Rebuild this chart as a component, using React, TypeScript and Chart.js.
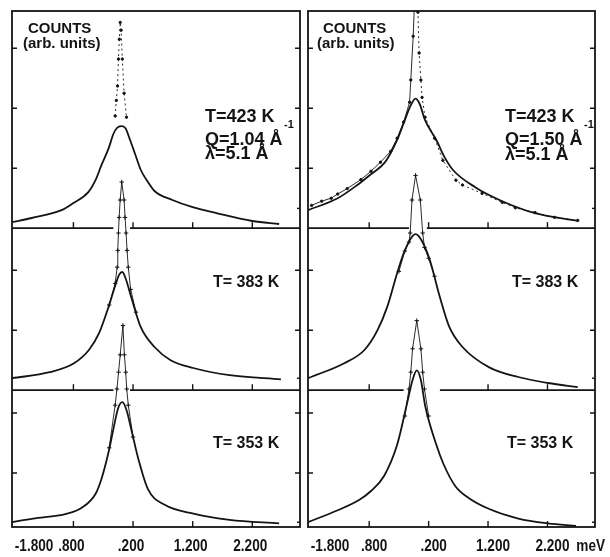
import React, { useEffect, useRef } from "react";
import { Chart, registerables } from "chart.js";

Chart.register(...registerables);

// ---------- axes ----------
const X_MIN = -1.83;
const X_MAX = 3.0;
const Y_MAX = 8.6;
// baselines of the stacked panels (top, middle, bottom), in count units
const PANEL_BASES = [4.98, 2.28, 0];

const X_TICKS = [-1.8, -0.8, 0.2, 1.2, 2.2];
const X_TICK_LABELS = ["-1.800", ".800", ".200", "1.200", "2.200"];
const UNIT_LABEL = "meV";

// ---------- left column, Q = 1.04 Å-1 ----------
// T = 423 K
const L423_FIT_X = [-1.83, -1.5, -1.0, -0.8, -0.55, -0.43, -0.33, -0.21, -0.13, -0.07, 0, 0.07, 0.15, 0.23, 0.33, 0.45, 0.56, 0.86, 1.2, 1.6, 2.2, 2.65];
const L423_FIT_Y = [0.1, 0.17, 0.3, 0.42, 0.6, 0.8, 1.05, 1.33, 1.57, 1.67, 1.7, 1.67, 1.47, 1.25, 0.97, 0.77, 0.62, 0.47, 0.35, 0.25, 0.12, 0.07];
const L423_DATA_X = [-0.1, -0.08, -0.06, -0.045, -0.03, -0.015, 0.0, 0.02, 0.05, 0.09];
const L423_DATA_Y = [1.87, 2.13, 2.37, 2.82, 3.15, 3.43, 3.3, 2.82, 2.25, 1.85];
// T = 383 K
const L383_FIT_X = [-1.83, -1.2, -0.79, -0.54, -0.37, -0.21, -0.08, -0.03, 0.02, 0.08, 0.17, 0.33, 0.56, 0.83, 1.21, 1.82, 2.68];
const L383_FIT_Y = [0.2, 0.3, 0.45, 0.67, 0.95, 1.39, 1.8, 1.93, 1.97, 1.85, 1.55, 1.05, 0.72, 0.5, 0.37, 0.25, 0.18];
const L383_DATA_X = [-0.2, -0.1, -0.066, -0.056, -0.045, -0.033, -0.016, 0.01, 0.05, 0.066, 0.083, 0.1, 0.12, 0.16, 0.25];
const L383_DATA_Y = [1.42, 1.78, 2.05, 2.33, 2.62, 2.88, 3.17, 3.47, 3.17, 2.88, 2.62, 2.33, 2.05, 1.68, 1.3];
// T = 353 K
const L353_FIT_X = [-1.83, -1.48, -0.92, -0.66, -0.43, -0.33, -0.21, -0.13, -0.05, 0.02, 0.09, 0.17, 0.29, 0.45, 0.73, 1.23, 1.82, 2.65];
const L353_FIT_Y = [0.08, 0.14, 0.22, 0.32, 0.55, 0.8, 1.25, 1.63, 1.98, 2.08, 1.95, 1.63, 1.13, 0.63, 0.37, 0.22, 0.12, 0.06];
const L353_DATA_X = [-0.2, -0.1, -0.07, -0.043, -0.015, 0.03, 0.055, 0.077, 0.094, 0.12, 0.2];
const L353_DATA_Y = [1.32, 2.03, 2.3, 2.58, 2.87, 3.36, 2.87, 2.58, 2.3, 2.03, 1.5];

// ---------- right column, Q = 1.50 Å-1 ----------
// T = 423 K
const R423_FIT_X = [-1.83, -1.33, -1.0, -0.77, -0.55, -0.44, -0.33, -0.22, -0.1, -0.02, 0.05, 0.14, 0.33, 0.47, 0.61, 0.99, 1.44, 1.99, 2.71];
const R423_FIT_Y = [0.3, 0.5, 0.72, 0.9, 1.08, 1.25, 1.47, 1.75, 2.05, 2.16, 2.07, 1.8, 1.47, 1.18, 0.97, 0.68, 0.45, 0.25, 0.12];
const R423_DATA_X = [-1.77, -1.6, -1.44, -1.33, -1.17, -0.94, -0.77, -0.61, -0.44, -0.33, -0.22, -0.12, -0.1, -0.06, -0.02, 0.02, 0.04, 0.07, 0.09, 0.14, 0.3, 0.44, 0.66, 0.77, 1.1, 1.44, 1.66, 1.99, 2.32, 2.71];
const R423_DATA_Y = [0.38, 0.45, 0.5, 0.57, 0.66, 0.81, 0.95, 1.1, 1.28, 1.5, 1.77, 2.1, 2.47, 3.2, 4.2, 3.6, 2.92, 2.47, 2.18, 1.85, 1.5, 1.13, 0.8, 0.72, 0.58, 0.43, 0.34, 0.26, 0.18, 0.13];
// T = 383 K
const R383_FIT_X = [-1.83, -1.22, -0.88, -0.66, -0.5, -0.33, -0.22, -0.1, -0.02, 0.08, 0.22, 0.39, 0.55, 0.77, 1.22, 1.71, 2.21, 2.71];
const R383_FIT_Y = [0.2, 0.45, 0.67, 1.0, 1.38, 1.95, 2.28, 2.53, 2.6, 2.5, 2.17, 1.55, 1.05, 0.72, 0.38, 0.22, 0.12, 0.05];
const R383_DATA_X = [-0.3, -0.2, -0.13, -0.11, -0.08, -0.02, 0.06, 0.1, 0.13, 0.2, 0.3];
const R383_DATA_Y = [1.98, 2.32, 2.47, 2.62, 3.17, 3.58, 3.17, 2.62, 2.38, 2.2, 1.9];
// T = 353 K
const R353_FIT_X = [-1.83, -1.33, -0.97, -0.77, -0.55, -0.33, -0.17, -0.07, 0.0, 0.07, 0.14, 0.33, 0.45, 0.65, 0.88, 1.22, 1.71, 2.21, 2.68];
const R353_FIT_Y = [0.08, 0.28, 0.45, 0.6, 0.85, 1.37, 2.03, 2.45, 2.61, 2.45, 2.03, 1.37, 1.05, 0.68, 0.48, 0.3, 0.14, 0.06, 0.02];
const R353_DATA_X = [-0.2, -0.13, -0.1, -0.07, 0.0, 0.07, 0.1, 0.13, 0.2];
const R353_DATA_Y = [1.85, 2.3, 2.58, 2.97, 3.44, 2.97, 2.58, 2.3, 1.85];

// ---------- styling ----------
const INK = "#141414";
const TEXT_FONT = '"Liberation Sans", Arial, Helvetica, sans-serif';

type Panel = {
  fitX: number[];
  fitY: number[];
  dataX: number[];
  dataY: number[];
  base: number;
  dashed?: (x: number) => boolean;
  dot?: boolean;
};

type Txt = { t: string; x: number; y: number; size: number };

type Column = {
  key: string;
  left: number;
  width: number;
  padding: { left: number; right: number; top: number; bottom: number };
  panels: Panel[];
  boundaryGaps: [number, number][];
  unitTick: number | null;
  labelShift: number;
  texts: Txt[];
};

const LEFT: Column = {
  key: "L",
  left: 0,
  width: 305,
  padding: { left: 12, right: 1, top: 11, bottom: 0 },
  panels: [
    { fitX: L423_FIT_X, fitY: L423_FIT_Y, dataX: L423_DATA_X, dataY: L423_DATA_Y, base: PANEL_BASES[0], dashed: () => true, dot: true },
    { fitX: L383_FIT_X, fitY: L383_FIT_Y, dataX: L383_DATA_X, dataY: L383_DATA_Y, base: PANEL_BASES[1] },
    { fitX: L353_FIT_X, fitY: L353_FIT_Y, dataX: L353_DATA_X, dataY: L353_DATA_Y, base: PANEL_BASES[2] },
  ],
  boundaryGaps: [[-0.13, 0.15], [-0.13, 0.15]],
  unitTick: null,
  labelShift: -2,
  texts: [
    { t: "COUNTS", x: 28, y: 33, size: 15 },
    { t: "(arb. units)", x: 23, y: 48, size: 15 },
    { t: "T=423 K", x: 205, y: 122, size: 18 },
    { t: "Q=1.04 Å", x: 205, y: 145, size: 18 },
    { t: "-1", x: 284, y: 128, size: 11 },
    { t: "λ=5.1 Å", x: 205, y: 159, size: 18 },
    { t: "T= 383 K", x: 213, y: 287, size: 16 },
    { t: "T= 353 K", x: 213, y: 448, size: 16 },
  ],
};

const RIGHT: Column = {
  key: "R",
  left: 303,
  width: 307,
  padding: { left: 0, right: 15, top: 11, bottom: 0 },
  panels: [
    { fitX: R423_FIT_X, fitY: R423_FIT_Y, dataX: R423_DATA_X, dataY: R423_DATA_Y, base: PANEL_BASES[0], dashed: (x) => x >= -0.02, dot: true },
    { fitX: R383_FIT_X, fitY: R383_FIT_Y, dataX: R383_DATA_X, dataY: R383_DATA_Y, base: PANEL_BASES[1] },
    { fitX: R353_FIT_X, fitY: R353_FIT_Y, dataX: R353_DATA_X, dataY: R353_DATA_Y, base: PANEL_BASES[2] },
  ],
  boundaryGaps: [[-0.13, 0.17], [-0.22, 0.39]],
  unitTick: 3.17,
  labelShift: 5,
  texts: [
    { t: "COUNTS", x: 20, y: 33, size: 15 },
    { t: "(arb. units)", x: 14, y: 48, size: 15 },
    { t: "T=423 K", x: 202, y: 122, size: 18 },
    { t: "Q=1.50 Å", x: 202, y: 145, size: 18 },
    { t: "-1", x: 281, y: 128, size: 11 },
    { t: "λ=5.1 Å", x: 202, y: 160, size: 18 },
    { t: "T= 383 K", x: 209, y: 287, size: 16 },
    { t: "T= 353 K", x: 204, y: 448, size: 16 },
  ],
};

// tick marks on the panel sides, in count units above each panel's baseline
const Y_TICKS_BY_PANEL = [[1, 2, 3], [1, 2], [0.9, 1.9]];
const Y_SHORT_TICKS_BY_PANEL = [0.33, 0.2, 0.08];

function buildDatasets(col: Column) {
  const sets: any[] = [];
  col.panels.forEach((p) => {
    sets.push({
      data: p.fitX.map((x, i) => ({ x, y: p.fitY[i] + p.base })),
      borderColor: INK,
      borderWidth: 1.8,
      pointRadius: 0,
      cubicInterpolationMode: "monotone",
      fill: false,
    });
    sets.push({
      data: p.dataX.map((x, i) => ({ x, y: p.dataY[i] + p.base })),
      borderColor: INK,
      borderWidth: 0.9,
      pointRadius: p.dot ? 1.2 : 2.2,
      pointStyle: p.dot ? "circle" : "cross",
      pointBorderColor: INK,
      pointBackgroundColor: INK,
      pointBorderWidth: 1,
      tension: 0,
      fill: false,
      segment: p.dashed
        ? { borderDash: (ctx: any) => (p.dashed!(ctx.p0.parsed.x) ? [2, 3] : undefined) }
        : undefined,
    });
  });
  return sets;
}

function makeDecor(col: Column) {
  return {
    id: "decor" + col.key,
    beforeDatasetsDraw(chart: any) {
      const { ctx, chartArea: a, scales } = chart;
      const xs = scales.x;
      const ys = scales.y;
      ctx.save();
      ctx.strokeStyle = INK;
      ctx.lineWidth = 1.8;
      ctx.strokeRect(a.left, a.top, a.right - a.left, a.bottom - a.top);
      [PANEL_BASES[0], PANEL_BASES[1]].forEach((b, i) => {
        const py = ys.getPixelForValue(b);
        const g0 = xs.getPixelForValue(col.boundaryGaps[i][0]);
        const g1 = xs.getPixelForValue(col.boundaryGaps[i][1]);
        ctx.beginPath();
        ctx.moveTo(a.left, py);
        ctx.lineTo(g0, py);
        ctx.moveTo(g1, py);
        ctx.lineTo(a.right, py);
        ctx.stroke();
      });
      ctx.lineWidth = 1.4;
      PANEL_BASES.forEach((b, i) => {
        const py = ys.getPixelForValue(b);
        X_TICKS.forEach((v) => {
          if (i < 2) {
            const g = col.boundaryGaps[i];
            if (v > g[0] && v < g[1]) return;
          }
          const px = xs.getPixelForValue(v);
          if (px <= a.left + 2) return;
          ctx.beginPath();
          ctx.moveTo(px, py);
          ctx.lineTo(px, py - 6);
          ctx.stroke();
        });
      });
      PANEL_BASES.forEach((b, i) => {
        Y_TICKS_BY_PANEL[i].forEach((v) => {
          const py = ys.getPixelForValue(b + v);
          ctx.beginPath();
          ctx.moveTo(a.left, py);
          ctx.lineTo(a.left + 5, py);
          ctx.moveTo(a.right, py);
          ctx.lineTo(a.right - 5, py);
          ctx.stroke();
        });
        const ps = ys.getPixelForValue(b + Y_SHORT_TICKS_BY_PANEL[i]);
        ctx.beginPath();
        ctx.moveTo(a.right, ps);
        ctx.lineTo(a.right - 3, ps);
        ctx.stroke();
      });
      ctx.restore();
    },
    afterDatasetsDraw(chart: any) {
      const { ctx, chartArea: a, scales } = chart;
      const xs = scales.x;
      ctx.save();
      ctx.fillStyle = INK;
      ctx.textBaseline = "alphabetic";
      ctx.textAlign = "left";
      col.texts.forEach((tx) => {
        ctx.font = `bold ${tx.size}px ${TEXT_FONT}`;
        ctx.fillText(tx.t, tx.x, tx.y);
      });
      // x tick labels, placed by the x scale, drawn in a condensed face
      const base = a.bottom + 24;
      ctx.font = `bold 17px ${TEXT_FONT}`;
      const draw = (label: string, px: number, align: CanvasTextAlign) => {
        ctx.save();
        ctx.translate(px, base);
        ctx.scale(0.8, 1);
        ctx.textAlign = align;
        ctx.fillText(label, 0, 0);
        ctx.restore();
      };
      X_TICKS.forEach((v, i) => {
        const px = xs.getPixelForValue(v);
        if (i === 0) draw(X_TICK_LABELS[i], px + 1, "left");
        else draw(X_TICK_LABELS[i], px + col.labelShift, "center");
      });
      if (col.unitTick !== null) draw(UNIT_LABEL, xs.getPixelForValue(col.unitTick), "right");
      ctx.restore();
    },
  };
}

function ColumnChart({ col }: { col: Column }) {
  const ref = useRef<HTMLCanvasElement | null>(null);
  useEffect(() => {
    if (!ref.current) return;
    const chart = new Chart(ref.current, {
      type: "line",
      data: { datasets: buildDatasets(col) },
      options: {
        animation: false,
        responsive: false,
        events: [],
        layout: { padding: col.padding },
        plugins: { legend: { display: false }, tooltip: { enabled: false } },
        scales: {
          x: {
            type: "linear",
            min: X_MIN,
            max: X_MAX,
            grid: { display: false, drawTicks: false },
            border: { display: false },
            ticks: { display: false },
            afterFit: (scale: any) => {
              scale.paddingLeft = 0;
              scale.paddingRight = 0;
              scale.height = 30;
            },
          },
          y: { type: "linear", display: false, min: 0, max: Y_MAX },
        },
      } as any,
      plugins: [makeDecor(col)],
    });
    return () => chart.destroy();
  }, [col]);
  return (
    <canvas
      ref={ref}
      width={col.width}
      height={557}
      style={{ position: "absolute", left: col.left, top: 0, width: col.width, height: 557 }}
    />
  );
}

export default function App() {
  return (
    <div style={{ position: "absolute", left: 0, top: 0, width: 610, height: 557, background: "#fff", overflow: "hidden" }}>
      <ColumnChart col={LEFT} />
      <ColumnChart col={RIGHT} />
    </div>
  );
}
